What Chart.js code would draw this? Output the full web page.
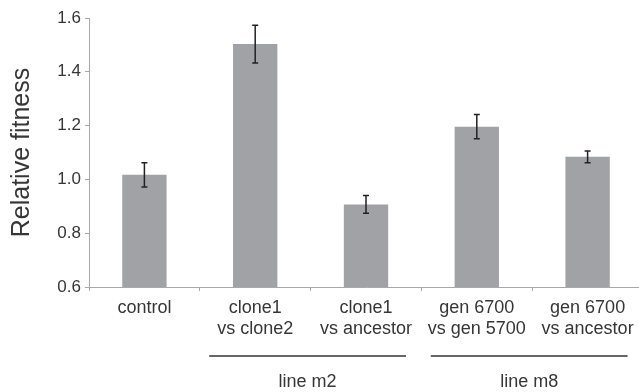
<!DOCTYPE html>
<html>
<head>
<meta charset="utf-8">
<script src="https://cdn.jsdelivr.net/npm/chart.js@4.4.0/dist/chart.umd.min.js"></script>
<style>
  html, body { margin: 0; padding: 0; background: #fff; overflow: hidden; }
  #wrap { width: 660px; height: 392px; }
</style>
</head>
<body>
<div id="wrap"><canvas id="fitnessChart"></canvas></div>
<script>
const categories = [
  ["control"],
  ["clone1", "vs clone2"],
  ["clone1", "vs ancestor"],
  ["gen 6700", "vs gen 5700"],
  ["gen 6700", "vs ancestor"]
];
const fitness = [1.017, 1.503, 0.907, 1.196, 1.084];
const fitnessErr = [0.045, 0.07, 0.033, 0.045, 0.022];
const yTicks = [0.6, 0.8, 1.0, 1.2, 1.4, 1.6];
const groupNames = ["line m2", "line m8"];
const groupRanges = [[1, 2], [3, 4]];

const textColor = "#363636";
const axisColor = "#a8a8a8";

// error bars drawn over the bars
const errorBars = {
  id: "errorBars",
  afterDatasetsDraw(chart) {
    const ctx = chart.ctx;
    const y = chart.scales.y;
    const meta = chart.getDatasetMeta(0);
    ctx.save();
    ctx.strokeStyle = "#222";
    ctx.lineWidth = 1.5;
    meta.data.forEach((bar, i) => {
      const top = y.getPixelForValue(fitness[i] + fitnessErr[i]);
      const bot = y.getPixelForValue(fitness[i] - fitnessErr[i]);
      ctx.beginPath();
      ctx.moveTo(bar.x, top);
      ctx.lineTo(bar.x, bot);
      ctx.moveTo(bar.x - 3, top);
      ctx.lineTo(bar.x + 3, top);
      ctx.moveTo(bar.x - 3, bot);
      ctx.lineTo(bar.x + 3, bot);
      ctx.stroke();
    });
    ctx.restore();
  }
};

// "line m2" / "line m8" group brackets under the axis
const groupLabels = {
  id: "groupLabels",
  afterDraw(chart) {
    const ctx = chart.ctx;
    const x = chart.scales.x;
    ctx.save();
    ctx.strokeStyle = "#333";
    ctx.lineWidth = 1.5;
    ctx.fillStyle = textColor;
    ctx.font = "18px 'Liberation Sans', Arial, sans-serif";
    ctx.textAlign = "center";
    ctx.textBaseline = "middle";
    groupRanges.forEach((r, g) => {
      const left = x.getPixelForValue(r[0]) - 46;
      const right = x.getPixelForValue(r[1]) + 40;
      ctx.beginPath();
      ctx.moveTo(left, 356);
      ctx.lineTo(right, 356);
      ctx.stroke();
      ctx.fillText(groupNames[g], (left + right) / 2, 382);
    });
    ctx.restore();
  }
};

const ctx = document.getElementById("fitnessChart").getContext("2d");
new Chart(ctx, {
  type: "bar",
  data: {
    labels: categories,
    datasets: [{
      data: fitness,
      backgroundColor: "#a1a2a6",
      barPercentage: 0.4,
      categoryPercentage: 1.0
    }]
  },
  options: {
    responsive: true,
    maintainAspectRatio: false,
    animation: false,
    layout: { padding: { left: 0, top: 18, right: 17, bottom: 0 } },
    plugins: {
      legend: { display: false },
      tooltip: { enabled: false }
    },
    scales: {
      x: {
        afterFit(scale) { scale.height = 105; },
        border: { color: axisColor, width: 1 },
        grid: { drawOnChartArea: false, drawTicks: true, tickLength: 4, color: axisColor },
        ticks: {
          color: textColor,
          padding: 6,
          maxRotation: 0,
          autoSkip: false,
          font: { family: "'Liberation Sans', Arial, sans-serif", size: 18, lineHeight: 1.2 }
        }
      },
      y: {
        min: 0.6,
        max: 1.6,
        afterFit(scale) { scale.width = 89; },
        afterBuildTicks(scale) { scale.ticks = yTicks.map(v => ({ value: v })); },
        border: { color: axisColor, width: 1 },
        grid: { drawOnChartArea: false, drawTicks: true, tickLength: 4, color: axisColor },
        ticks: {
          color: textColor,
          padding: 4,
          font: { family: "'Liberation Sans', Arial, sans-serif", size: 17 },
          callback: v => Number(v).toFixed(1)
        },
        title: {
          display: true,
          text: "Relative fitness",
          color: textColor,
          padding: { top: 7, bottom: 0 },
          font: { family: "'Liberation Sans', Arial, sans-serif", size: 25 }
        }
      }
    }
  },
  plugins: [errorBars, groupLabels]
});
</script>
</body>
</html>
